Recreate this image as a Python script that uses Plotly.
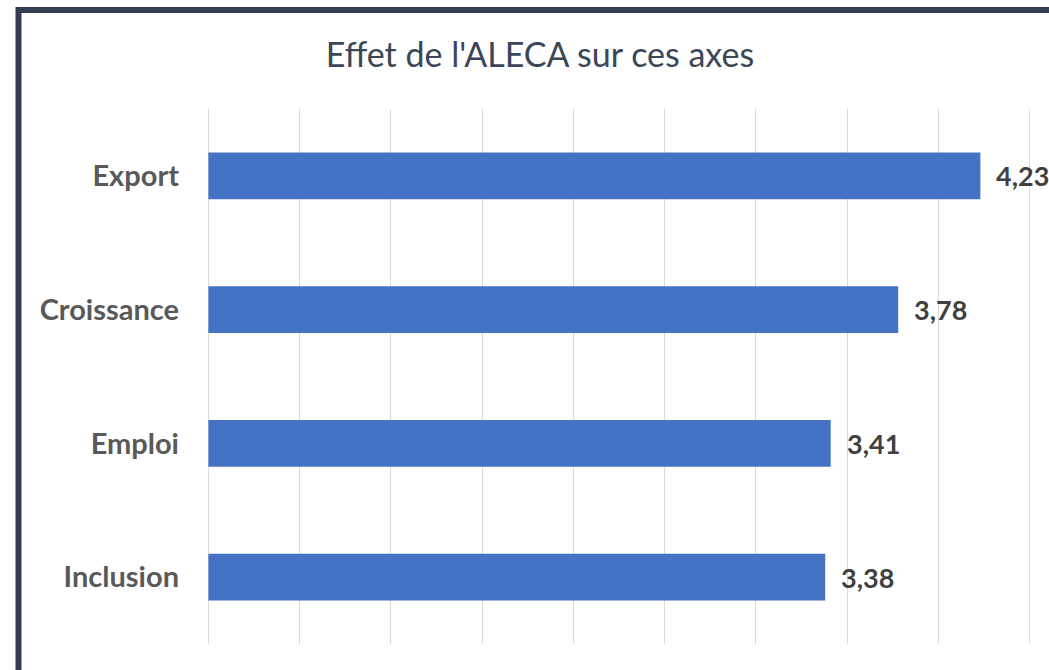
import plotly.graph_objects as go

categories = ["Export", "Croissance", "Emploi", "Inclusion"]
values = [4.23, 3.78, 3.41, 3.38]
value_labels = ["4,23", "3,78", "3,41", "3,38"]
title_text = "Effet de l'ALECA sur ces axes"
x_max = 4.5

W, H = 1049, 670
ml, mr, mt, mb = 208, 19, 109, 26
pw, ph = W - ml - mr, H - mt - mb

def px_x(px):
    return (px - ml) / pw

def px_y(py):
    return (H - mb - py) / ph

fig = go.Figure()
fig.add_trace(go.Bar(
    x=values, y=categories, orientation="h",
    marker=dict(color="#4472C4", line=dict(width=0)),
    width=0.35, hoverinfo="skip",
))

for v, c, t in zip(values, categories, value_labels):
    fig.add_annotation(x=v, y=c, text="<b>" + t + "</b>", showarrow=False,
                       xanchor="left", yanchor="middle", xshift=14,
                       font=dict(family="Lato", size=27, color="#404040"))

# gridline at the right edge of the axis range
fig.add_shape(type="line", xref="x", yref="paper", x0=x_max, x1=x_max, y0=0, y1=1,
              line=dict(color="#D9D9D9", width=1), layer="below")

fig.add_shape(type="rect", xref="paper", yref="paper",
              x0=px_x(18.5), x1=px_x(1075), y0=px_y(700), y1=px_y(10),
              line=dict(color="#333F50", width=6), fillcolor="rgba(0,0,0,0)",
              layer="above")

fig.update_layout(
    width=W, height=H,
    margin=dict(l=ml, r=mr, t=mt, b=mb),
    paper_bgcolor="white", plot_bgcolor="white",
    showlegend=False,
    title=dict(text=title_text, xref="container", yref="container",
               x=540 / W, y=1 - 55 / H,
               xanchor="center", yanchor="middle",
               font=dict(family="Lato", size=34, color="#3B4658")),
    xaxis=dict(range=[-0.002, x_max + 0.002], dtick=0.5, tick0=0, showticklabels=False,
               showgrid=True, gridcolor="#D9D9D9", gridwidth=1,
               zeroline=True, zerolinecolor="#D9D9D9", zerolinewidth=1,
               showline=False, fixedrange=True),
    yaxis=dict(categoryorder="array", categoryarray=categories,
               autorange="reversed", showgrid=False, zeroline=False,
               showline=False, ticks="", ticklabelstandoff=28, fixedrange=True,
               tickfont=dict(family="Lato", size=29, color="#595959", weight="bold")),
)

fig.write_html("out.html", config={"displayModeBar": False},
               post_script="document.body.style.margin='0';"
                           "document.body.style.overflow='hidden';")
